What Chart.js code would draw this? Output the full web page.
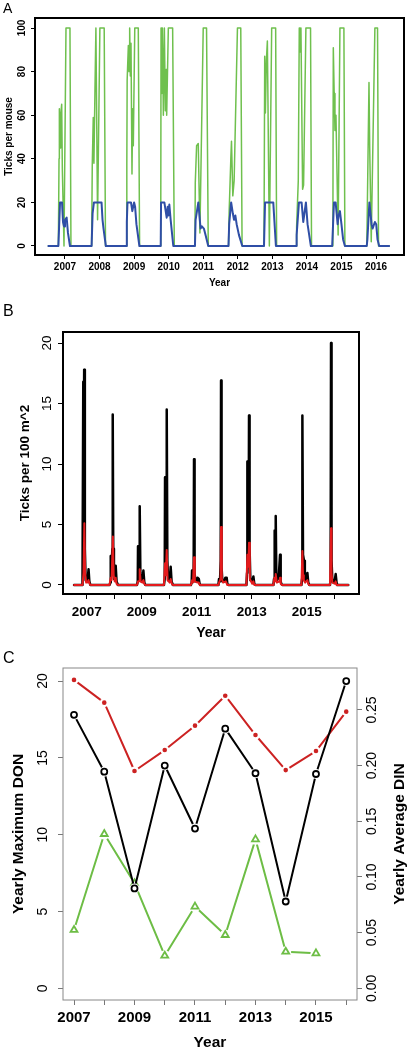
<!DOCTYPE html>
<html><head><meta charset="utf-8">
<script src="https://cdn.jsdelivr.net/npm/chart.js@4.4.1/dist/chart.umd.min.js"></script>
<style>
html,body{margin:0;padding:0;background:#fff;}
body{width:409px;height:1050px;position:relative;overflow:hidden;font-family:"Liberation Sans",Arial,sans-serif;}
canvas{position:absolute;left:0;}
.lab{position:absolute;left:3px;font-size:15px;line-height:15px;color:#000;}
</style></head><body>
<canvas id="cA" width="409" height="295" style="top:0"></canvas>
<canvas id="cB" width="409" height="345" style="top:295px"></canvas>
<canvas id="cC" width="409" height="410" style="top:640px"></canvas>
<div class="lab" style="top:1px;font-size:14px;line-height:14px">A</div>
<div class="lab" style="top:303px;font-size:16px;line-height:16px">B</div>
<div class="lab" style="top:650px;font-size:16px;line-height:16px">C</div>
<script>
const FONT = '"Liberation Sans", Arial, Helvetica, sans-serif';

// ---------- shared ----------
const yearTicks = [2007, 2008, 2009, 2010, 2011, 2012, 2013, 2014, 2015, 2016];
const oddYearLabels = [2007, 2009, 2011, 2013, 2015];
const seasonYears = [2007, 2008, 2009, 2010, 2011, 2012, 2013, 2014, 2015, 2016];

// ---------- Panel A: ticks per mouse (pairs: [weeks from Jan 1 of season year, value]) ----------
const startA = 2006.52, endA = 2016.38;
const blueA = [
  [[-10,0],[-8.5,12],[-7.5,20],[-4.5,20],[-3,11],[-1.5,9],[0,12],[2.5,13],[4.5,6],[7.5,0]],
  [[-12,0],[-10.5,15],[-8.5,20],[3,20],[4.5,12],[6,8],[9.5,0]],
  [[-12,0],[-11,11],[-10,20],[-4.7,20],[-2.7,16],[0,20],[1.5,18],[3.5,10],[8,0]],
  [[-12,0],[-11.5,20],[-6.5,20],[-3,13],[-1.5,18],[-0.5,14],[1,19],[3,12],[7,0]],
  [[-12.5,0],[-11.5,12],[-7.4,20],[-4,8],[-2,9],[1,8],[3.5,5],[7.6,0]],
  [[-14,0],[-13,10],[-10,20],[-7.5,15],[-5.7,12],[-3.7,14],[-1.7,10],[1.8,5],[6.8,0]],
  [[-12.6,0],[-11,20],[1.4,20],[5.4,0]],
  [[-16,0],[-15.5,5],[-12,20],[-8,20],[-5.5,11],[-1.5,20],[1,10],[3.5,5],[6,0]],
  [[-14,0],[-11.3,20],[-8.8,20],[-5.8,10],[-4.3,14],[-2.3,16],[0,10],[2.5,3],[5.2,0]],
  [[-14,0],[-13,3],[-10,20],[-6.7,10],[-5.2,8],[-1.7,11],[0.3,10],[2.3,3],[4.8,0]]
];
const greenA = [
  [[-10,0],[-9,40],[-8.5,63],[-7.5,45],[-6.5,60],[-5,65],[-4,35],[-1.5,0],[1.5,100],[7.5,100],[9,0]],
  [[-12,0],[-11,37],[-9.5,59],[-8.5,38],[-7,70],[-5.5,100],[-3,12],[0.5,100],[7,100],[9,0]],
  [[-12,0],[-11,38],[-10.5,76],[-8.7,92],[-7.7,80],[-6.7,100],[-5.7,78],[-4.7,93],[-3.2,33],[-2.2,63],[-1.2,46],[1,100],[6.3,100],[8.3,0]],
  [[-12,0],[-11.5,100],[-10.5,70],[-9.5,100],[-8,60],[-6.5,100],[-5,62],[-4,81],[-3,60],[-0.5,100],[6,100],[8.5,0]],
  [[-12.5,0],[-12,29],[-10,46],[-7.5,47],[-5,6],[0,100],[5,100],[7.6,0]],
  [[-14,0],[-13,16],[-10.5,40],[-9.5,48],[-7.5,23],[-5.5,30],[-0.5,100],[4.5,100],[6.5,0]],
  [[-12.6,0],[-11.5,87],[-10.5,61],[-9,85],[-7.5,94],[-4.5,0],[-1,100],[5,100],[6.5,0]],
  [[-16,0],[-15.5,9],[-13,30],[-11.5,100],[-10.5,89],[-9,100],[-6.5,26],[-5,28],[-1.5,100],[5.5,100],[7,0]],
  [[-13,0],[-12.3,91],[-11,70],[-9.8,53],[-8.3,60],[-5,5],[-2.3,100],[3.7,100],[5.2,0]],
  [[-14,0],[-13.5,9],[-10.6,75],[-9.5,45],[-7.2,2],[-1.7,100],[2.3,100],[3.8,0]]
];
const ticksAy = [0, 20, 40, 60, 80, 100];

// ---------- Panel B: ticks per 100 m^2 ----------
const startB = 2006.54, endB = 2016.51;
const blackB = [
  [[-8,0],[-6.5,16.8],[-5.8,10],[-4.8,17.8],[-3.5,3],[-2,0.4],[0,0.6],[1.5,0.3],[3.5,1.3],[5,0.3],[7,0]],
  [[-9,0],[-7,0.2],[-6.6,2.4],[-5.5,1],[-3.5,3],[-2.8,14.1],[-1.8,3],[-0.5,0.5],[1.5,0.6],[2.8,1.6],[4.5,0.3],[7,0]],
  [[-9,0],[-7.5,0.3],[-7,3.2],[-5.5,0.8],[-4.5,1.5],[-3.8,6.5],[-2.5,1],[-1,0.3],[1.5,0.3],[3.2,1.2],[5,0.2],[7,0]],
  [[-10,0],[-8.5,0.5],[-7.9,8.9],[-6.5,5],[-5.2,6],[-4.7,14.5],[-3.5,2],[-2,0.4],[1,0.4],[2.8,1.5],[4.5,0.3],[7,0]],
  [[-11,0],[-9.5,0.2],[-8.9,1.2],[-7,0.3],[-5.8,1],[-5.1,10.4],[-4,1],[-2.5,0.3],[0,0.3],[1.5,0.6],[4,0.5],[5.5,0.1],[7,0]],
  [[-11,0],[-9.8,0.5],[-8,0.3],[-6.6,2],[-6,16.9],[-5,1.5],[-3.5,0.3],[0,0.3],[2.2,0.6],[4.7,0.6],[6,0.1],[8,0]],
  [[-10,0],[-8.8,1],[-8.2,10.2],[-6.5,6],[-5.5,8],[-5.1,14.0],[-4,3],[-2.5,0.4],[1,0.3],[3.2,0.7],[5,0.1],[7,0]],
  [[-11,0],[-9.8,0.5],[-9.2,4.5],[-8,1],[-7,2],[-6.6,5.7],[-5.5,1],[-4,0.4],[-1,0.6],[1.6,2.5],[2.8,0.3],[4,0.1],[6,0]],
  [[-10,0],[-8.8,0.5],[-8.2,14.0],[-7,2.5],[-5.1,2.0],[-3.5,0.4],[-1,0.4],[1.3,1.0],[3,0.2],[5,0]],
  [[-8,0],[-6.8,0.5],[-6,20.0],[-5,2],[-3.5,0.3],[-1,0.2],[1.5,0.5],[2.8,0.9],[4.5,0.2],[6,0]]
];
const redB = [
  [[-8,0],[-6,1],[-4.5,5.1],[-3,1],[-1,0.2],[1,0.2],[3.5,0.4],[5.5,0.1],[7,0]],
  [[-9,0],[-6.6,0.6],[-5,0.4],[-2.5,4.0],[-1,0.8],[1,0.3],[2.8,0.6],[4.5,0.1],[7,0]],
  [[-9,0],[-7,0.3],[-5,0.3],[-3.8,1.3],[-2,0.3],[1,0.2],[3.2,0.4],[5,0.1],[7,0]],
  [[-10,0],[-7.9,1.8],[-6.5,0.8],[-4.7,2.9],[-3,0.4],[1,0.2],[2.8,0.5],[5,0.1],[7,0]],
  [[-11,0],[-8.9,0.4],[-7,0.2],[-5.1,2.3],[-3.5,0.3],[1.5,0.2],[4,0.2],[6,0]],
  [[-11,0],[-9.8,0.2],[-7,0.5],[-6,4.8],[-4.5,0.5],[-2,0.2],[3,0.3],[6,0]],
  [[-10,0],[-8.2,2.5],[-6.5,1.5],[-5.1,3.5],[-3.5,0.5],[1,0.1],[3.2,0.3],[5,0]],
  [[-11,0],[-9.2,0.6],[-7.5,0.3],[-6.6,0.9],[-4.5,0.2],[0.5,0.3],[1.6,0.6],[3,0.1],[5,0]],
  [[-10,0],[-8.2,2.8],[-7,0.8],[-5.5,0.4],[-3,0.2],[1.3,0.4],[3,0.1],[5,0]],
  [[-8,0],[-6,4.7],[-5,1],[-3.5,0.2],[1.5,0.1],[2.8,0.3],[4.5,0],[6,0]]
];
const ticksBy = [0, 5, 10, 15, 20];

// ---------- Panel C: yearly summaries ----------
const yearsC = [2007, 2008, 2009, 2010, 2011, 2012, 2013, 2014, 2015, 2016];
const donMaxC = [17.8, 14.1, 6.5, 14.5, 10.4, 16.9, 14.0, 5.65, 13.95, 20.0];
const dinRedC = [0.277, 0.2566, 0.1952, 0.214, 0.2359, 0.2628, 0.2275, 0.196, 0.2131, 0.2485];
const dinGreenC = [0.0524, 0.1386, 0.0943, 0.0293, 0.0734, 0.0479, 0.1338, 0.0329, 0.0314, null];
const ticksCy = [0, 5, 10, 15, 20];
const ticksCy2 = [0, 0.05, 0.10, 0.15, 0.20, 0.25];
const labelsCy2 = ['0.00', '0.05', '0.10', '0.15', '0.20', '0.25'];

// ---------- helpers ----------
function toSeries(seasons, start, end) {
  const pts = [{x: start, y: 0}];
  seasons.forEach((pairs, i) => pairs.forEach(([w, v]) => pts.push({x: seasonYears[i] + w * 7 / 365.25, y: v})));
  pts.push({x: end, y: 0});
  return pts;
}
function pairs(xs, ys) { return xs.map((x, i) => ({x: x, y: ys[i]})); }

function decoPlugin(cfg) {
  return {
    id: 'rdeco',
    afterDraw(chart) {
      const ctx = chart.ctx, a = chart.chartArea;
      ctx.save();
      ctx.strokeStyle = cfg.frameColor; ctx.lineWidth = cfg.frameWidth;
      ctx.strokeRect(a.left, a.top, a.right - a.left, a.bottom - a.top);
      ctx.fillStyle = '#000'; ctx.textAlign = 'center'; ctx.textBaseline = 'middle';
      cfg.yAxes.forEach(ax => {
        const sc = chart.scales[ax.id];
        ctx.font = ax.font;
        ax.values.forEach((v, i) => {
          const y = sc.getPixelForValue(v);
          ctx.save(); ctx.translate(ax.labelX, y); ctx.rotate(-Math.PI / 2);
          ctx.fillText(ax.labels[i], 0, 0); ctx.restore();
        });
        ctx.font = ax.titleFont;
        ctx.save(); ctx.translate(ax.titleX, (a.top + a.bottom) / 2); ctx.rotate(-Math.PI / 2);
        ctx.fillText(ax.title, 0, 0); ctx.restore();
      });
      ctx.font = cfg.xTitleFont;
      ctx.fillText(cfg.xTitle, (a.left + a.right) / 2, cfg.xTitleY);
      ctx.restore();
    }
  };
}

function xScale(min, max, height, size, pad, labelFn, tickColor, tickLen) {
  return {
    type: 'linear', position: 'bottom', min: min, max: max,
    afterBuildTicks: s => { s.ticks = yearTicks.map(v => ({value: v})); },
    afterFit: s => { s.height = height; },
    grid: {display: true, drawOnChartArea: false, drawTicks: true, tickLength: tickLen, color: tickColor, lineWidth: 1},
    border: {display: false},
    ticks: {autoSkip: false, maxRotation: 0, minRotation: 0, padding: pad, color: '#000',
      font: {family: FONT, size: size, weight: 'bold'}, callback: labelFn}
  };
}
function yScale(pos, min, max, width, vals, tickColor, tickLen) {
  return {
    type: 'linear', position: pos, min: min, max: max,
    afterBuildTicks: s => { s.ticks = vals.map(v => ({value: v})); },
    afterFit: s => { s.width = width; },
    grid: {display: true, drawOnChartArea: false, drawTicks: true, tickLength: tickLen, color: tickColor, lineWidth: 1},
    border: {display: false},
    ticks: {display: false}
  };
}
const common = {
  responsive: false, animation: false, events: [],
  plugins: {legend: {display: false}, tooltip: {enabled: false}},
  elements: {point: {radius: 0}, line: {tension: 0, borderJoinStyle: 'round', borderCapStyle: 'round'}}
};

// ---------- Chart A ----------
new Chart(document.getElementById('cA'), {
  type: 'line',
  data: {datasets: [
    {data: toSeries(blueA, startA, endA), borderColor: '#2f4ea6', borderWidth: 2, pointRadius: 0},
    {data: toSeries(greenA, startA, endA), borderColor: '#6fc04e', borderWidth: 1.5, pointRadius: 0}
  ]},
  options: Object.assign({}, common, {
    layout: {padding: {left: 0, right: 5, top: 18, bottom: 0}},
    scales: {
      x: xScale(2006.132, 2016.81, 40, 10, 2, v => String(v), '#000', 4),
      y: yScale('left', -4.13, 104.6, 35, ticksAy, '#000', 4)
    }
  }),
  plugins: [decoPlugin({frameColor: '#000', frameWidth: 2, xTitle: 'Year', xTitleY: 283,
    xTitleFont: 'bold 10px ' + FONT,
    yAxes: [{id: 'y', values: ticksAy, labels: ticksAy.map(String), labelX: 22, font: 'bold 10px ' + FONT,
      title: 'Ticks per mouse', titleX: 9, titleFont: 'bold 10px ' + FONT}]})]
});

// ---------- Chart B ----------
new Chart(document.getElementById('cB'), {
  type: 'line',
  data: {datasets: [
    {data: toSeries(redB, startB, endB), borderColor: '#e41a1c', borderWidth: 2, pointRadius: 0},
    {data: toSeries(blackB, startB, endB), borderColor: '#000', borderWidth: 2.5, pointRadius: 0}
  ]},
  options: Object.assign({}, common, {
    layout: {padding: {left: 0, right: 50, top: 37, bottom: 0}},
    scales: {
      x: xScale(2006.138, 2016.902, 46, 13.5, 5, v => oddYearLabels.includes(v) ? String(v) : '', '#000', 5),
      y: yScale('left', -0.744, 20.91, 63, ticksBy, '#000', 5)
    }
  }),
  plugins: [decoPlugin({frameColor: '#000', frameWidth: 2, xTitle: 'Year', xTitleY: 338,
    xTitleFont: 'bold 14px ' + FONT,
    yAxes: [{id: 'y', values: ticksBy, labels: ticksBy.map(String), labelX: 47, font: '13.5px ' + FONT,
      title: 'Ticks per 100 m^2', titleX: 25, titleFont: 'bold 13.5px ' + FONT}]})]
});

// ---------- Chart C ----------
new Chart(document.getElementById('cC'), {
  type: 'line',
  data: {datasets: [
    {data: pairs(yearsC, donMaxC), yAxisID: 'y', showLine: false, pointRadius: 3, pointBorderWidth: 1.8,
      pointBorderColor: '#000', pointBackgroundColor: 'rgba(0,0,0,0)'},
    {data: pairs(yearsC, donMaxC), yAxisID: 'y', borderColor: '#000', borderWidth: 2,
      pointRadius: 5, pointBorderWidth: 0, pointBackgroundColor: '#fff'},
    {data: pairs(yearsC, dinRedC), yAxisID: 'y2', showLine: false, pointRadius: 2.3, pointBorderWidth: 0,
      pointBackgroundColor: '#cc2222'},
    {data: pairs(yearsC, dinRedC), yAxisID: 'y2', borderColor: '#cc2222', borderWidth: 2,
      pointRadius: 4.5, pointBorderWidth: 0, pointBackgroundColor: '#fff'},
    {data: pairs(yearsC, dinGreenC), yAxisID: 'y2', showLine: false, pointStyle: 'triangle', pointRadius: 4,
      pointBorderWidth: 1.8, pointBorderColor: '#6dbd45', pointBackgroundColor: 'rgba(0,0,0,0)'},
    {data: pairs(yearsC, dinGreenC), yAxisID: 'y2', borderColor: '#6dbd45', borderWidth: 2, spanGaps: false,
      pointRadius: 5.5, pointBorderWidth: 0, pointBackgroundColor: '#fff'}
  ]},
  options: Object.assign({}, common, {
    layout: {padding: {left: 0, right: 0, top: 28, bottom: 0}},
    scales: {
      x: xScale(2006.636, 2016.356, 50, 15, 4, v => oddYearLabels.includes(v) ? String(v) : '', '#777', 5),
      y: yScale('left', -0.76, 20.85, 63, ticksCy, '#777', 5),
      y2: yScale('right', -0.0105, 0.2877, 52, ticksCy2, '#777', 5)
    }
  }),
  plugins: [decoPlugin({frameColor: '#888', frameWidth: 1, xTitle: 'Year', xTitleY: 403,
    xTitleFont: 'bold 15.5px ' + FONT,
    yAxes: [
      {id: 'y', values: ticksCy, labels: ticksCy.map(String), labelX: 43, font: '14px ' + FONT,
        title: 'Yearly Maximum DON', titleX: 19, titleFont: 'bold 15.5px ' + FONT},
      {id: 'y2', values: ticksCy2, labels: labelsCy2, labelX: 372, font: '14px ' + FONT,
        title: 'Yearly Average DIN', titleX: 400, titleFont: 'bold 15.5px ' + FONT}
    ]})]
});
</script>
</body></html>
